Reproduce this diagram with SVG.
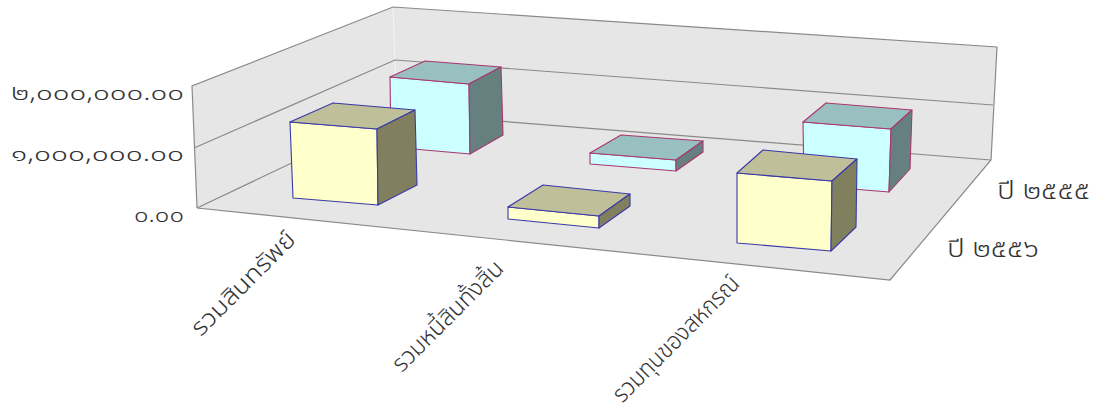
<svg xmlns="http://www.w3.org/2000/svg" width="1107" height="411" viewBox="0 0 1107 411">
<style>
.wall{fill:#e6e6e6;stroke:none}
.edge{fill:none;stroke:#8a8a8a;stroke-width:1.2}
.yf{fill:#ffffcc;stroke:#3a3aa8;stroke-width:1.1;stroke-linejoin:round}
.yt{fill:#bfbf99;stroke:#3a3aa8;stroke-width:1.1;stroke-linejoin:round}
.ys{fill:#80805f;stroke:#3a3aa8;stroke-width:1.1;stroke-linejoin:round}
.cf{fill:#ccffff;stroke:#a8386e;stroke-width:1.1;stroke-linejoin:round}
.ct{fill:#99c0c0;stroke:#a8386e;stroke-width:1.1;stroke-linejoin:round}
.cs{fill:#668080;stroke:#a8386e;stroke-width:1.1;stroke-linejoin:round}
text{font-family:"Noto Sans Thai","Noto Sans","DejaVu Sans",sans-serif;fill:#333;font-size:21px;font-weight:300}
.cat{font-size:24px}
.ser{font-size:24px}
</style>
<g id="walls">
<polygon class="wall" points="192,86 393,7 397,113 197,208"/>
<polygon class="wall" points="393,7 997,47 991,160 397,113"/>
<polygon class="wall" points="197,208 397,113 991,160 890,280"/>
<line x1="393" y1="7" x2="397" y2="113" stroke="#f4f4f4" stroke-width="1"/>
</g>
<g id="axes">
<polyline class="edge" points="197,208 192,86 393,7 997,47 991,160 890,280 197,208"/>
<polyline class="edge" points="194,148 395,60 993,105"/>
<polyline class="edge" points="197,208 397,113 991,160"/>
</g>
<g id="bar-asset-2555">
<polygon class="cf" points="390,77 469,84 470,154 391,147"/>
<polygon class="ct" points="390,77 425,61 501,67 469,84"/>
<polygon class="cs" points="469,84 501,67 503,135 470,154"/>
</g>
<g id="bar-debt-2555">
<polygon class="cf" points="590,153 676,160 676,171 590,164"/>
<polygon class="ct" points="590,153 621,135 703,141 676,160"/>
<polygon class="cs" points="676,160 703,141 703,152 676,171"/>
</g>
<g id="bar-capital-2555">
<polygon class="cf" points="803,122 891,129 889,192 804,185"/>
<polygon class="ct" points="803,122 826,103 912,110 891,129"/>
<polygon class="cs" points="891,129 912,110 910,169 889,192"/>
</g>
<g id="bar-asset-2556">
<polygon class="yf" points="290,122 377,129 378,205 293,198"/>
<polygon class="yt" points="290,122 333,103 415,110 377,129"/>
<polygon class="ys" points="377,129 415,110 417,185 378,205"/>
</g>
<g id="bar-debt-2556">
<polygon class="yf" points="508,207 599,216 599,228 508,219"/>
<polygon class="yt" points="508,207 543,185 630,194 599,216"/>
<polygon class="ys" points="599,216 630,194 630,206 599,228"/>
</g>
<g id="bar-capital-2556">
<polygon class="yf" points="737,173 832,181 831,251 737,243"/>
<polygon class="yt" points="737,173 763,150 857,159 832,181"/>
<polygon class="ys" points="832,181 857,159 856,227 831,251"/>
</g>
<g id="connectors"></g>
<g id="y-labels" text-anchor="end">
<text x="184" y="100" textLength="173" lengthAdjust="spacingAndGlyphs">๒,๐๐๐,๐๐๐.๐๐</text>
<text x="184" y="161" textLength="173" lengthAdjust="spacingAndGlyphs">๑,๐๐๐,๐๐๐.๐๐</text>
<text x="184" y="222" textLength="50" lengthAdjust="spacingAndGlyphs">๐.๐๐</text>
</g>
<g id="series-labels">
<text class="ser" x="997" y="199" textLength="93" lengthAdjust="spacingAndGlyphs">ปี ๒๕๕๕</text>
<text class="ser" x="947" y="257" textLength="92" lengthAdjust="spacingAndGlyphs">ปี ๒๕๕๖</text>
</g>
<g id="category-labels" text-anchor="end">
<text class="cat" transform="translate(297,241) rotate(-45)" textLength="136" lengthAdjust="spacingAndGlyphs">รวมสินทรัพย์</text>
<text class="cat" transform="translate(505,270) rotate(-45)" textLength="146" lengthAdjust="spacingAndGlyphs">รวมหนี้สินทั้งสิ้น</text>
<text class="cat" transform="translate(741,285) rotate(-45)" textLength="168" lengthAdjust="spacingAndGlyphs">รวมทุนของสหกรณ์</text>
</g>
</svg>
